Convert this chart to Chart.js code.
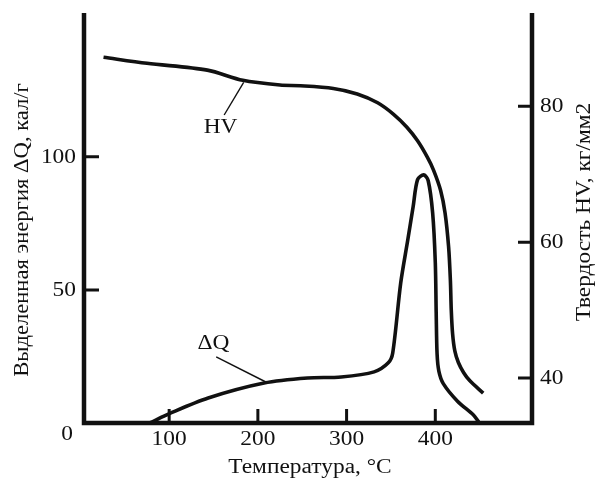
<!DOCTYPE html>
<html lang="ru">
<head>
    <meta charset="UTF-8">
    <title>ΔQ и HV</title>
    <script src="https://cdn.jsdelivr.net/npm/chart.js@4.4.1/dist/chart.umd.min.js"></script>
    <style>
        body { margin: 0; background: #fff; }
    </style>
</head>
<body>

<canvas id="chart" width="595" height="481"></canvas>

<script>
    // кривая твердости HV (правая ось)
    const hvTemp  = [26, 75, 143, 183, 225, 248, 285, 312, 335, 353, 368, 380, 391, 398, 406, 411, 415, 417, 418, 419.5, 422, 426, 432, 439, 454];
    const hvValue = [87.2, 86.3, 85.3, 83.8, 83.1, 83.0, 82.6, 81.8, 80.5, 78.8, 76.9, 74.9, 72.5, 70.6, 67.6, 64.3, 59.3, 54.4, 50.0, 46.5, 44.0, 42.3, 40.8, 39.6, 37.8];

    // выделенная энергия dQ (левая ось)
    const dqTemp  = [78, 102, 144, 207, 256, 294, 331, 347, 352, 361, 369, 375, 380, 387, 392, 397, 400, 401, 402, 404, 409, 425, 443, 449];
    const dqValue = [0, 3.8, 9.4, 15, 16.9, 17.3, 19.2, 22.6, 26.3, 52.6, 68.8, 81.2, 91.4, 93.2, 91.0, 78.9, 60.2, 41.4, 26.0, 19.5, 14.8, 8.2, 3, 0.4];

    const xTicks = [100, 200, 300, 400];
    const leftTicks = [0, 50, 100];
    const rightTicks = [40, 60, 80];

    // выноски к подписям кривых
    const hvLeader = [{x: 162, y: 78.7}, {x: 184, y: 83.5}];
    const dqLeader = [{x: 153, y: 24.8}, {x: 209, y: 15.4}];
    const hvLabel = {x: 158, y: 76.8, text: 'HV'};
    const dqLabel = {x: 150, y: 29.7, text: 'ΔQ'};

    const FONT = '20px "Liberation Serif"';
    const INK = '#111';
    const STRETCH = 1.17; // шрифт оригинала шире

    function toPoints(xs, ys) {
        return xs.map((x, i) => ({x: x, y: ys[i]}));
    }

    function text(ctx, str, x, y, align, angle, stretch) {
        ctx.save();
        ctx.translate(x, y);
        if (angle) ctx.rotate(angle);
        ctx.scale(stretch || STRETCH, 1);
        ctx.textAlign = align;
        ctx.fillText(str, 0, 0);
        ctx.restore();
    }

    const axesPlugin = {
        id: 'axesPlugin',
        afterDatasetsDraw(chart) {
            const ctx = chart.ctx;
            const xs = chart.scales.x;
            const yl = chart.scales.yLeft;
            const yr = chart.scales.yRight;
            const a = chart.chartArea;

            ctx.save();
            ctx.strokeStyle = INK;
            ctx.fillStyle = INK;
            ctx.lineCap = 'butt';

            // рамка осей
            ctx.lineWidth = 4.5;
            ctx.beginPath();
            ctx.moveTo(a.left, a.top);
            ctx.lineTo(a.left, a.bottom);
            ctx.lineTo(a.right, a.bottom);
            ctx.lineTo(a.right, a.top);
            ctx.stroke();

            // засечки
            ctx.lineWidth = 3;
            ctx.beginPath();
            xTicks.forEach(v => {
                const px = xs.getPixelForValue(v);
                ctx.moveTo(px, a.bottom);
                ctx.lineTo(px, a.bottom - 14);
            });
            leftTicks.filter(v => v > 0).forEach(v => {
                const py = yl.getPixelForValue(v);
                ctx.moveTo(a.left, py);
                ctx.lineTo(a.left + 15, py);
            });
            rightTicks.forEach(v => {
                const py = yr.getPixelForValue(v);
                ctx.moveTo(a.right, py);
                ctx.lineTo(a.right - 14, py);
            });
            ctx.stroke();

            // подписи засечек
            ctx.font = FONT;
            ctx.textBaseline = 'middle';
            xTicks.forEach(v => {
                text(ctx, String(v), xs.getPixelForValue(v), a.bottom + 17, 'center');
            });
            leftTicks.forEach(v => {
                const py = yl.getPixelForValue(v);
                if (v === 0) {
                    text(ctx, '0', a.left - 17, py + 12, 'center');
                } else {
                    text(ctx, String(v), a.left - 8, py + 1, 'right');
                }
            });
            rightTicks.forEach(v => {
                text(ctx, String(v), a.right + 8, yr.getPixelForValue(v) + 1, 'left');
            });

            // названия осей
            text(ctx, 'Температура, °C', (a.left + a.right) / 2 + 2, a.bottom + 45, 'center');
            text(ctx, 'Выделенная энергия ΔQ, кал/г', 23, 230, 'center', -Math.PI / 2, 1.13);
            text(ctx, 'Твердость HV, кг/мм2', 585, 212, 'center', -Math.PI / 2, 1.17);

            // подписи кривых
            text(ctx, hvLabel.text, xs.getPixelForValue(hvLabel.x), yr.getPixelForValue(hvLabel.y), 'center');
            text(ctx, dqLabel.text, xs.getPixelForValue(dqLabel.x), yl.getPixelForValue(dqLabel.y), 'center');

            ctx.restore();
        }
    };

    const curveStyle = {
        showLine: true,
        borderColor: INK,
        borderWidth: 3.6,
        pointRadius: 0,
        tension: 0.3,
        fill: false
    };

    const leaderStyle = {
        showLine: true,
        borderColor: INK,
        borderWidth: 1.4,
        pointRadius: 0,
        tension: 0,
        fill: false
    };

    const chartObj = {
        type: 'scatter',
        data: {
            datasets: [
                Object.assign({label: 'HV', data: toPoints(hvTemp, hvValue), yAxisID: 'yRight'}, curveStyle),
                Object.assign({label: 'ΔQ', data: toPoints(dqTemp, dqValue), yAxisID: 'yLeft'}, curveStyle),
                Object.assign({label: 'hv-leader', data: hvLeader, yAxisID: 'yRight'}, leaderStyle),
                Object.assign({label: 'dq-leader', data: dqLeader, yAxisID: 'yLeft'}, leaderStyle)
            ]
        },
        options: {
            responsive: false,
            animation: false,
            layout: {
                padding: {left: 84, right: 63, top: 13, bottom: 58}
            },
            plugins: {
                legend: {display: false},
                tooltip: {enabled: false}
            },
            scales: {
                x: {type: 'linear', min: 4, max: 509, display: false},
                yLeft: {type: 'linear', position: 'left', min: 0, max: 154, display: false},
                yRight: {type: 'linear', position: 'right', min: 33.4, max: 93.7, display: false}
            }
        },
        plugins: [axesPlugin]
    };

    new Chart(document.getElementById('chart'), chartObj);
</script>

</body>
</html>
